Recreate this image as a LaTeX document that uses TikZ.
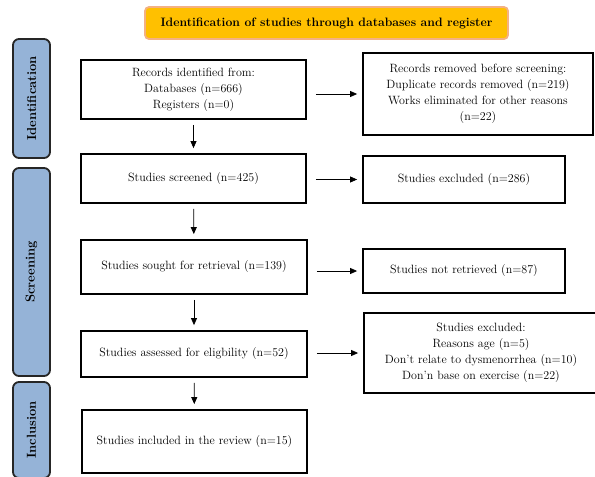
\documentclass[tikz,border=0pt]{standalone}
\usetikzlibrary{arrows.meta,calc}
\definecolor{titlefill}{HTML}{FFC000}
\definecolor{titleedge}{HTML}{F4B183}
\definecolor{sidefill}{HTML}{95B3D7}
\tikzset{
  flowbox/.style={draw=black, line width=1.8pt, fill=white, inner sep=2pt, align=center,
    font=\fontsize{12}{16}\selectfont},
  sidebar/.style={draw=black!85, line width=1.8pt, fill=sidefill, rounded corners=6pt},
  sidelabel/.style={rotate=90, font=\fontsize{13}{15}\selectfont\bfseries},
  arr/.style={-{Triangle[length=7pt,width=6pt]}, line width=0.8pt, shorten <=5pt, shorten >=5pt},
}
\begin{document}
\begin{tikzpicture}[x=1pt,y=-1pt]
\useasboundingbox (0,0) rectangle (595,477);
\clip (0,0) rectangle (595,477);
% title
\node[draw=titleedge, fill=titlefill, line width=1.8pt, rounded corners=4pt,
  minimum width=363pt, minimum height=32pt, font=\fontsize{12.2}{14}\selectfont\bfseries]
  (title) at (326.5,23) {Identification of studies through databases and register};
% side bars
\draw[sidebar] (13,39) rectangle (50,158);
\draw[sidebar] (13,168) rectangle (50,376);
\draw[sidebar] (13,382) rectangle (50,478);
\node[sidelabel] (l1) at (31.5,98.5) {Identification};
\node[sidelabel] (l2) at (31.5,272) {Screening};
\node[sidelabel] (l3) at (31.5,430) {Inclusion};
% main column
\node[flowbox, minimum width=225pt, minimum height=59pt] (b1) at (193.5,89.5)
  {Records identified from:\\Databases (n=666)\\Registers (n=0)};
\node[flowbox, minimum width=225pt, minimum height=49pt] (b2) at (193.5,178.5)
  {Studies screened (n=425)};
\node[flowbox, minimum width=226pt, minimum height=54pt] (b3) at (194,267)
  {Studies sought for retrieval (n=139)};
\node[flowbox, minimum width=226pt, minimum height=46pt] (b4) at (194,354)
  {Studies assessed for eligbility (n=52)};
\node[flowbox, minimum width=225pt, minimum height=63pt] (b5) at (194.5,441.5)
  {Studies included in the review (n=15)};
% right column
\node[flowbox, minimum width=230pt, minimum height=82pt] (r1) at (478,94)
  {Records removed before screening:\\Duplicate records removed (n=219)\\Works eliminated for other reasons\\(n=22)};
\node[flowbox, minimum width=202pt, minimum height=47pt] (r2) at (464,179.5)
  {Studies excluded (n=286)};
\node[flowbox, minimum width=202pt, minimum height=44pt] (r3) at (464,271)
  {Studies not retrieved (n=87)};
\node[flowbox, minimum width=234pt, minimum height=80pt] (r4) at (481,353)
  {Studies excluded:\\Reasons age (n=5)\\Don’t relate to dysmenorrhea (n=10)\\Don’n base on exercise (n=22)};
% arrows
\draw[arr] (b1) -- (b2);
\draw[arr] (b2) -- (b3);
\draw[arr] (b3) -- (b4);
\draw[arr] (b4) -- (b5);
\draw[arr, shorten <=9pt] (b1.east |- r1.west) -- (r1.west);
\draw[arr, shorten <=9pt] (b2.east |- r2.west) -- (r2.west);
\draw[arr, shorten <=9pt] (b3.east |- r3.west) -- (r3.west);
\draw[arr, shorten <=9pt] (b4.east |- r4.west) -- (r4.west);
\end{tikzpicture}
\end{document}
